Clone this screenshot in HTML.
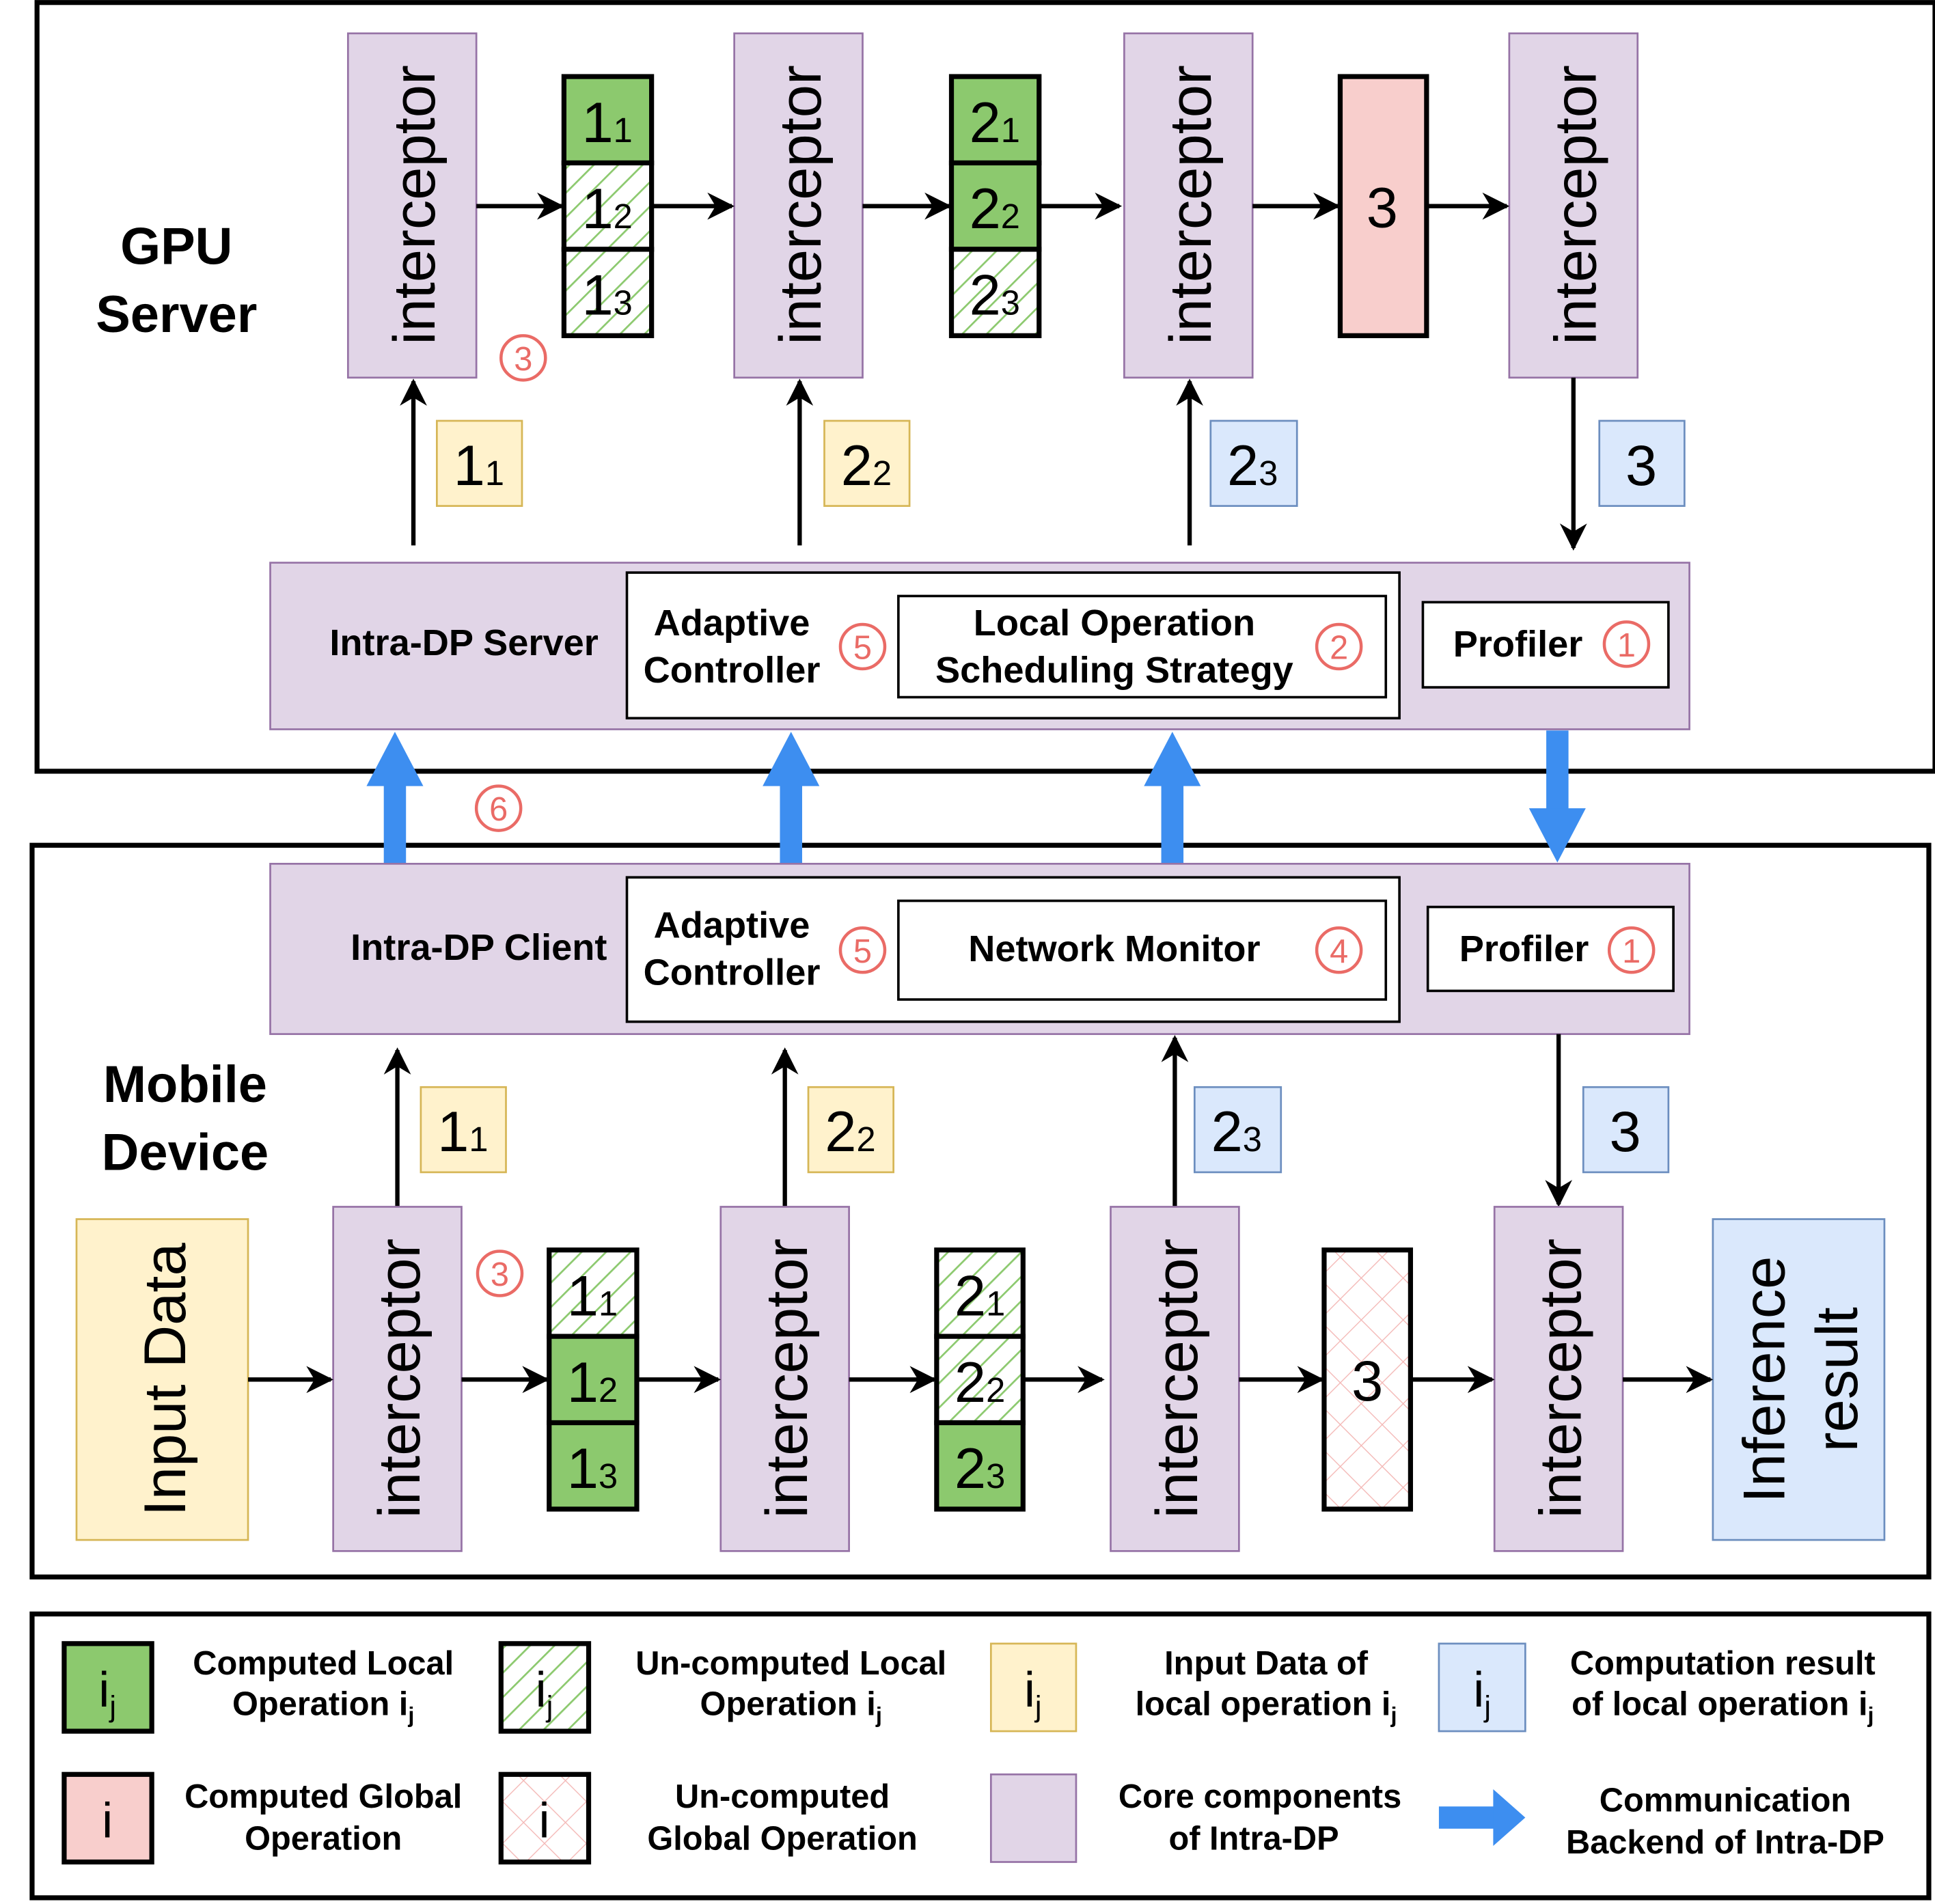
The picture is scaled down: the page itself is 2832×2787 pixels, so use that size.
<!DOCTYPE html>
<html><head><meta charset="utf-8"><style>html,body{margin:0;padding:0;background:#fff}svg{display:block}</style></head>
<body>
<svg width="2832" height="2787" viewBox="0 0 1568 1543" xmlns="http://www.w3.org/2000/svg" font-family="Liberation Sans, sans-serif">
<defs>
<pattern id="hg" patternUnits="userSpaceOnUse" width="14" height="14" patternTransform="rotate(45)">
<rect width="14" height="14" fill="#fff"/><line x1="0" y1="0" x2="0" y2="14" stroke="#8cc96e" stroke-width="3"/></pattern>
<pattern id="hp" patternUnits="userSpaceOnUse" width="24" height="24" patternTransform="rotate(45)">
<rect width="24" height="24" fill="#fff"/><line x1="0" y1="0" x2="0" y2="24" stroke="#f4b8b6" stroke-width="1.5"/><line x1="0" y1="0" x2="24" y2="0" stroke="#f4b8b6" stroke-width="1.5"/></pattern>
<marker id="a2" viewBox="0 0 10 10" markerWidth="22" markerHeight="22" refX="9" refY="5" orient="auto" markerUnits="userSpaceOnUse"><path d="M0,0 L10,5 L0,10 L3,5 Z" fill="#000"/></marker>
</defs>
<style>
.ic{fill:#e1d5e7;stroke:#9673a6;stroke-width:1.5}
.it{font-size:48px;fill:#000}
.ln{stroke:#000;stroke-width:3.5;fill:none;marker-end:url(#a2)}
.cell{stroke:#000;stroke-width:4}
.num{font-size:46px}
.sub{font-size:28px}
.bt{font-weight:bold;font-size:30px}
.lg{font-weight:bold;font-size:27px;text-anchor:middle}
.cr{fill:none;stroke:#ea6b66;stroke-width:2.5}
.cn{fill:#ea6b66;font-size:27px;text-anchor:middle}
</style>

<rect x="30" y="2" width="1538" height="623" fill="none" stroke="#000" stroke-width="4"/>
<rect x="26" y="685" width="1537" height="593" fill="none" stroke="#000" stroke-width="4"/>
<rect x="26" y="1308" width="1537" height="230" fill="none" stroke="#000" stroke-width="4"/>

<text x="143" y="214" font-size="42" font-weight="bold" text-anchor="middle">GPU</text>
<text x="143" y="269" font-size="42" font-weight="bold" text-anchor="middle">Server</text>
<text x="150" y="893" font-size="42" font-weight="bold" text-anchor="middle">Mobile</text>
<text x="150" y="948" font-size="42" font-weight="bold" text-anchor="middle">Device</text>

<rect class="ic" x="282" y="27" width="104" height="279"/>
<rect class="ic" x="595" y="27" width="104" height="279"/>
<rect class="ic" x="911" y="27" width="104" height="279"/>
<rect class="ic" x="1223" y="27" width="104" height="279"/>
<text class="it" transform="translate(352,166) rotate(-90)" text-anchor="middle">interceptor</text>
<text class="it" transform="translate(665,166) rotate(-90)" text-anchor="middle">interceptor</text>
<text class="it" transform="translate(981,166) rotate(-90)" text-anchor="middle">interceptor</text>
<text class="it" transform="translate(1293,166) rotate(-90)" text-anchor="middle">interceptor</text>

<rect class="cell" x="457" y="62" width="71" height="70" fill="#8cc96e"/>
<rect class="cell" x="457" y="132" width="71" height="70" fill="url(#hg)"/>
<rect class="cell" x="457" y="202" width="71" height="70" fill="url(#hg)"/>
<text x="492" y="115" class="num" text-anchor="middle">1<tspan class="sub">1</tspan></text>
<text x="492" y="185" class="num" text-anchor="middle">1<tspan class="sub">2</tspan></text>
<text x="492" y="255" class="num" text-anchor="middle">1<tspan class="sub">3</tspan></text>
<rect class="cell" x="771" y="62" width="71" height="70" fill="#8cc96e"/>
<rect class="cell" x="771" y="132" width="71" height="70" fill="#8cc96e"/>
<rect class="cell" x="771" y="202" width="71" height="70" fill="url(#hg)"/>
<text x="806" y="115" class="num" text-anchor="middle">2<tspan class="sub">1</tspan></text>
<text x="806" y="185" class="num" text-anchor="middle">2<tspan class="sub">2</tspan></text>
<text x="806" y="255" class="num" text-anchor="middle">2<tspan class="sub">3</tspan></text>
<rect class="cell" x="1086" y="62" width="70" height="210" fill="#f8cecc"/>
<text x="1120" y="184" class="num" text-anchor="middle">3</text>

<line class="ln" x1="386" y1="167" x2="455" y2="167"/>
<line class="ln" x1="528" y1="167" x2="593" y2="167"/>
<line class="ln" x1="699" y1="167" x2="769" y2="167"/>
<line class="ln" x1="842" y1="167" x2="907" y2="167"/>
<line class="ln" x1="1015" y1="167" x2="1084" y2="167"/>
<line class="ln" x1="1156" y1="167" x2="1221" y2="167"/>
<circle class="cr" cx="424" cy="290" r="18"/><text class="cn" x="424" y="300">3</text>

<line class="ln" x1="335" y1="442" x2="335" y2="309"/>
<line class="ln" x1="648" y1="442" x2="648" y2="309"/>
<line class="ln" x1="964" y1="442" x2="964" y2="309"/>
<line class="ln" x1="1275" y1="306" x2="1275" y2="444"/>
<rect x="354" y="341" width="69" height="69" fill="#fff2cc" stroke="#d6b656" stroke-width="1.5"/>
<text x="388" y="393" class="num" text-anchor="middle">1<tspan class="sub">1</tspan></text>
<rect x="668" y="341" width="69" height="69" fill="#fff2cc" stroke="#d6b656" stroke-width="1.5"/>
<text x="702" y="393" class="num" text-anchor="middle">2<tspan class="sub">2</tspan></text>
<rect x="981" y="341" width="70" height="69" fill="#dae8fc" stroke="#6c8ebf" stroke-width="1.5"/>
<text x="1015" y="393" class="num" text-anchor="middle">2<tspan class="sub">3</tspan></text>
<rect x="1296" y="341" width="69" height="69" fill="#dae8fc" stroke="#6c8ebf" stroke-width="1.5"/>
<text x="1330" y="393" class="num" text-anchor="middle">3</text>

<rect class="ic" x="219" y="456" width="1150" height="135"/>
<text x="376" y="531" class="bt" text-anchor="middle">Intra-DP Server</text>
<rect x="508" y="464" width="626" height="118" fill="#fff" stroke="#000" stroke-width="2"/>
<text x="593" y="515" class="bt" text-anchor="middle">Adaptive</text>
<text x="593" y="553" class="bt" text-anchor="middle">Controller</text>
<circle class="cr" cx="699" cy="524" r="18"/><text class="cn" x="699" y="534">5</text>
<rect x="728" y="483" width="395" height="82" fill="#fff" stroke="#000" stroke-width="2"/>
<text x="903" y="515" class="bt" text-anchor="middle">Local Operation</text>
<text x="903" y="553" class="bt" text-anchor="middle">Scheduling Strategy</text>
<circle class="cr" cx="1085" cy="524" r="18"/><text class="cn" x="1085" y="534">2</text>
<rect x="1153" y="488" width="199" height="69" fill="#fff" stroke="#000" stroke-width="2"/>
<text x="1230" y="532" class="bt" text-anchor="middle">Profiler</text>
<circle class="cr" cx="1318" cy="522" r="18"/><text class="cn" x="1318" y="532">1</text>

<g fill="#3d8ef0">
<rect x="311" y="636" width="18" height="64"/><path d="M297,637 L343,637 L320,593 Z"/>
<rect x="632" y="636" width="18" height="64"/><path d="M618,637 L664,637 L641,593 Z"/>
<rect x="941" y="636" width="18" height="64"/><path d="M927,637 L973,637 L950,593 Z"/>
<rect x="1253" y="592" width="18" height="64"/><path d="M1239,655 L1285,655 L1262,699 Z"/>
</g>
<circle class="cr" cx="404" cy="655" r="18"/><text class="cn" x="404" y="665">6</text>

<rect class="ic" x="219" y="700" width="1150" height="138"/>
<text x="388" y="778" class="bt" text-anchor="middle">Intra-DP Client</text>
<rect x="508" y="711" width="626" height="117" fill="#fff" stroke="#000" stroke-width="2"/>
<text x="593" y="760" class="bt" text-anchor="middle">Adaptive</text>
<text x="593" y="798" class="bt" text-anchor="middle">Controller</text>
<circle class="cr" cx="699" cy="770" r="18"/><text class="cn" x="699" y="780">5</text>
<rect x="728" y="730" width="395" height="80" fill="#fff" stroke="#000" stroke-width="2"/>
<text x="903" y="779" class="bt" text-anchor="middle">Network Monitor</text>
<circle class="cr" cx="1085" cy="770" r="18"/><text class="cn" x="1085" y="780">4</text>
<rect x="1157" y="735" width="199" height="68" fill="#fff" stroke="#000" stroke-width="2"/>
<text x="1235" y="779" class="bt" text-anchor="middle">Profiler</text>
<circle class="cr" cx="1322" cy="770" r="18"/><text class="cn" x="1322" y="780">1</text>

<line class="ln" x1="322" y1="978" x2="322" y2="851"/>
<line class="ln" x1="636" y1="978" x2="636" y2="851"/>
<line class="ln" x1="952" y1="978" x2="952" y2="841"/>
<line class="ln" x1="1263" y1="838" x2="1263" y2="976"/>
<rect x="341" y="881" width="69" height="69" fill="#fff2cc" stroke="#d6b656" stroke-width="1.5"/>
<text x="375" y="933" class="num" text-anchor="middle">1<tspan class="sub">1</tspan></text>
<rect x="655" y="881" width="69" height="69" fill="#fff2cc" stroke="#d6b656" stroke-width="1.5"/>
<text x="689" y="933" class="num" text-anchor="middle">2<tspan class="sub">2</tspan></text>
<rect x="968" y="881" width="70" height="69" fill="#dae8fc" stroke="#6c8ebf" stroke-width="1.5"/>
<text x="1002" y="933" class="num" text-anchor="middle">2<tspan class="sub">3</tspan></text>
<rect x="1283" y="881" width="69" height="69" fill="#dae8fc" stroke="#6c8ebf" stroke-width="1.5"/>
<text x="1317" y="933" class="num" text-anchor="middle">3</text>

<rect x="62" y="988" width="139" height="260" fill="#fff2cc" stroke="#d6b656" stroke-width="1.5"/>
<text transform="translate(150,1118) rotate(-90)" font-size="48" text-anchor="middle">Input Data</text>
<rect x="1388" y="988" width="139" height="260" fill="#dae8fc" stroke="#6c8ebf" stroke-width="1.5"/>
<text transform="translate(1446,1118) rotate(-90)" font-size="48" text-anchor="middle">Inference</text>
<text transform="translate(1505,1118) rotate(-90)" font-size="48" text-anchor="middle">result</text>
<rect class="ic" x="270" y="978" width="104" height="279"/>
<rect class="ic" x="584" y="978" width="104" height="279"/>
<rect class="ic" x="900" y="978" width="104" height="279"/>
<rect class="ic" x="1211" y="978" width="104" height="279"/>
<text class="it" transform="translate(340,1117) rotate(-90)" text-anchor="middle">interceptor</text>
<text class="it" transform="translate(654,1117) rotate(-90)" text-anchor="middle">interceptor</text>
<text class="it" transform="translate(970,1117) rotate(-90)" text-anchor="middle">interceptor</text>
<text class="it" transform="translate(1281,1117) rotate(-90)" text-anchor="middle">interceptor</text>
<rect class="cell" x="445" y="1013" width="71" height="70" fill="url(#hg)"/>
<rect class="cell" x="445" y="1083" width="71" height="70" fill="#8cc96e"/>
<rect class="cell" x="445" y="1153" width="71" height="70" fill="#8cc96e"/>
<text x="480" y="1066" class="num" text-anchor="middle">1<tspan class="sub">1</tspan></text>
<text x="480" y="1136" class="num" text-anchor="middle">1<tspan class="sub">2</tspan></text>
<text x="480" y="1206" class="num" text-anchor="middle">1<tspan class="sub">3</tspan></text>
<rect class="cell" x="759" y="1013" width="70" height="70" fill="url(#hg)"/>
<rect class="cell" x="759" y="1083" width="70" height="70" fill="url(#hg)"/>
<rect class="cell" x="759" y="1153" width="70" height="70" fill="#8cc96e"/>
<text x="794" y="1066" class="num" text-anchor="middle">2<tspan class="sub">1</tspan></text>
<text x="794" y="1136" class="num" text-anchor="middle">2<tspan class="sub">2</tspan></text>
<text x="794" y="1206" class="num" text-anchor="middle">2<tspan class="sub">3</tspan></text>
<rect class="cell" x="1073" y="1013" width="70" height="210" fill="url(#hp)"/>
<text x="1108" y="1135" class="num" text-anchor="middle">3</text>
<circle class="cr" cx="405" cy="1032" r="18"/><text class="cn" x="405" y="1042">3</text>
<line class="ln" x1="201" y1="1118" x2="268" y2="1118"/>
<line class="ln" x1="374" y1="1118" x2="443" y2="1118"/>
<line class="ln" x1="516" y1="1118" x2="582" y2="1118"/>
<line class="ln" x1="688" y1="1118" x2="757" y2="1118"/>
<line class="ln" x1="829" y1="1118" x2="893" y2="1118"/>
<line class="ln" x1="1004" y1="1118" x2="1071" y2="1118"/>
<line class="ln" x1="1143" y1="1118" x2="1209" y2="1118"/>
<line class="ln" x1="1315" y1="1118" x2="1386" y2="1118"/>

<rect class="cell" x="52" y="1332" width="71" height="71" fill="#8cc96e"/>
<text x="87" y="1383" font-size="40" text-anchor="middle">i<tspan font-size="24" dy="8">j</tspan></text>
<text class="lg" x="262" y="1357">Computed Local</text>
<text class="lg" x="262" y="1390">Operation i<tspan font-size="18" dy="6">j</tspan></text>
<rect class="cell" x="406" y="1332" width="71" height="71" fill="url(#hg)"/>
<text x="441" y="1383" font-size="40" text-anchor="middle">i<tspan font-size="24" dy="8">j</tspan></text>
<text class="lg" x="641" y="1357">Un-computed Local</text>
<text class="lg" x="641" y="1390">Operation  i<tspan font-size="18" dy="6">j</tspan></text>
<rect x="803" y="1332" width="69" height="71" fill="#fff2cc" stroke="#d6b656" stroke-width="1.5"/>
<text x="837" y="1383" font-size="40" text-anchor="middle">i<tspan font-size="24" dy="8">j</tspan></text>
<text class="lg" x="1026" y="1357">Input Data of</text>
<text class="lg" x="1026" y="1390">local operation i<tspan font-size="18" dy="6">j</tspan></text>
<rect x="1166" y="1332" width="70" height="71" fill="#dae8fc" stroke="#6c8ebf" stroke-width="1.5"/>
<text x="1201" y="1383" font-size="40" text-anchor="middle">i<tspan font-size="24" dy="8">j</tspan></text>
<text class="lg" x="1396" y="1357">Computation result</text>
<text class="lg" x="1396" y="1390">of local operation i<tspan font-size="18" dy="6">j</tspan></text>

<rect class="cell" x="52" y="1438" width="71" height="71" fill="#f8cecc"/>
<text x="87" y="1489" font-size="40" text-anchor="middle">i</text>
<text class="lg" x="262" y="1465">Computed Global</text>
<text class="lg" x="262" y="1499">Operation</text>
<rect class="cell" x="406" y="1438" width="71" height="71" fill="url(#hp)"/>
<text x="441" y="1489" font-size="40" text-anchor="middle">i</text>
<text class="lg" x="634" y="1465">Un-computed</text>
<text class="lg" x="634" y="1499">Global Operation</text>
<rect class="ic" x="803" y="1438" width="69" height="71"/>
<text class="lg" x="1021" y="1465">Core components</text>
<text class="lg" x="1016" y="1499">of Intra-DP</text>
<g fill="#3d8ef0"><rect x="1166" y="1464" width="46" height="18"/><path d="M1210,1450 L1236,1473 L1210,1496 Z"/></g>
<text class="lg" x="1398" y="1468">Communication</text>
<text class="lg" x="1398" y="1502">Backend of Intra-DP</text>
</svg>
</body></html>
